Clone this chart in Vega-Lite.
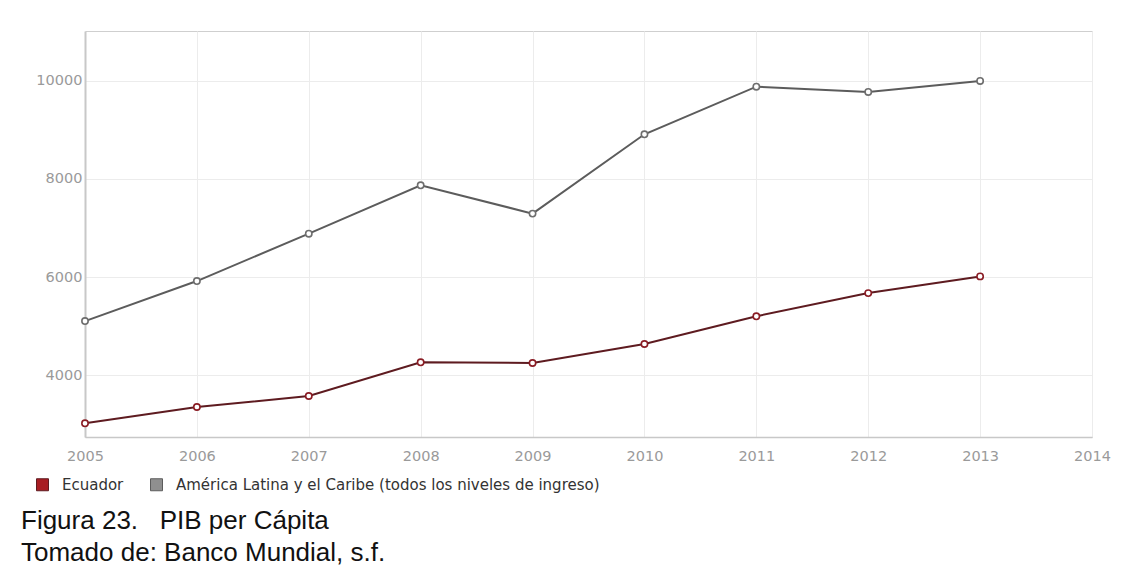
{
  "$schema": "https://vega.github.io/schema/vega-lite/v6.json",
  "width": 1007,
  "height": 406,
  "autosize": {"type": "none"},
  "padding": {"left": 85, "top": 31, "right": 38, "bottom": 137},
  "background": "white",
  "config": {
    "view": {"stroke": "#cfcfcf", "strokeWidth": 1},
    "font": "DejaVu Sans"
  },
  "title": {
    "text": "Figura 23.\u00a0\u00a0\u00a0PIB per Cápita",
    "subtitle": "Tomado de: Banco Mundial, s.f.",
    "orient": "bottom",
    "anchor": "start",
    "frame": "bounds",
    "font": "Liberation Sans",
    "fontSize": 26,
    "fontWeight": "normal",
    "color": "#111111",
    "subtitleFont": "Liberation Sans",
    "subtitleFontSize": 26,
    "subtitleColor": "#111111",
    "subtitlePadding": 6,
    "offset": 15,
    "dx": -14
  },
  "data": {
    "values": [
      {"anio": 2005, "serie": "Ecuador", "pib": 3022},
      {"anio": 2006, "serie": "Ecuador", "pib": 3354},
      {"anio": 2007, "serie": "Ecuador", "pib": 3578},
      {"anio": 2008, "serie": "Ecuador", "pib": 4265},
      {"anio": 2009, "serie": "Ecuador", "pib": 4250},
      {"anio": 2010, "serie": "Ecuador", "pib": 4637},
      {"anio": 2011, "serie": "Ecuador", "pib": 5202},
      {"anio": 2012, "serie": "Ecuador", "pib": 5674},
      {"anio": 2013, "serie": "Ecuador", "pib": 6014},
      {"anio": 2005, "serie": "América Latina y el Caribe (todos los niveles de ingreso)", "pib": 5104},
      {"anio": 2006, "serie": "América Latina y el Caribe (todos los niveles de ingreso)", "pib": 5919},
      {"anio": 2007, "serie": "América Latina y el Caribe (todos los niveles de ingreso)", "pib": 6884},
      {"anio": 2008, "serie": "América Latina y el Caribe (todos los niveles de ingreso)", "pib": 7870},
      {"anio": 2009, "serie": "América Latina y el Caribe (todos los niveles de ingreso)", "pib": 7293},
      {"anio": 2010, "serie": "América Latina y el Caribe (todos los niveles de ingreso)", "pib": 8908},
      {"anio": 2011, "serie": "América Latina y el Caribe (todos los niveles de ingreso)", "pib": 9878},
      {"anio": 2012, "serie": "América Latina y el Caribe (todos los niveles de ingreso)", "pib": 9770},
      {"anio": 2013, "serie": "América Latina y el Caribe (todos los niveles de ingreso)", "pib": 9994}
    ]
  },
  "encoding": {
    "x": {
      "field": "anio",
      "type": "quantitative",
      "scale": {"domain": [2005, 2014], "nice": false, "zero": false},
      "axis": {
        "values": [2005, 2006, 2007, 2008, 2009, 2010, 2011, 2012, 2013, 2014],
        "format": "d",
        "title": null,
        "grid": true,
        "gridColor": "#ececec",
        "gridWidth": 1,
        "ticks": false,
        "domain": true,
        "domainColor": "#c8c8c8",
        "domainWidth": 1.5,
        "labelColor": "#9a9a9a",
        "labelFont": "DejaVu Sans",
        "labelFontSize": 14.5,
        "labelPadding": 12,
        "labelFlush": false,
        "labelOverlap": false
      }
    },
    "y": {
      "field": "pib",
      "type": "quantitative",
      "scale": {"domain": [2743, 11012], "nice": false, "zero": false},
      "axis": {
        "values": [4000, 6000, 8000, 10000],
        "format": "d",
        "title": null,
        "grid": true,
        "gridColor": "#ececec",
        "gridWidth": 1,
        "ticks": false,
        "domain": true,
        "domainColor": "#c8c8c8",
        "domainWidth": 2,
        "labelColor": "#9a9a9a",
        "labelFont": "DejaVu Sans",
        "labelFontSize": 14.5,
        "labelPadding": 3
      }
    },
    "color": {
      "field": "serie",
      "type": "nominal",
      "scale": {
        "domain": ["Ecuador", "América Latina y el Caribe (todos los niveles de ingreso)"],
        "range": ["#5e1b20", "#5c5c5c"]
      },
      "legend": {
        "orient": "none",
        "legendX": -50,
        "legendY": 446,
        "direction": "horizontal",
        "title": null,
        "symbolType": "square",
        "symbolSize": 144,
        "symbolStrokeWidth": 1,
        "labelFont": "DejaVu Sans",
        "labelFontSize": 15,
        "labelColor": "#333333",
        "labelOffset": 12,
        "columnPadding": 24,
        "labelLimit": 0,
        "encode": {
          "symbols": {
            "update": {
              "fill": {"signal": "datum.value === 'Ecuador' ? '#a81d22' : '#8f8f8f'"},
              "stroke": {"signal": "datum.value === 'Ecuador' ? '#7d1418' : '#7b7b7b'"},
              "opacity": {"value": 1},
              "fillOpacity": {"value": 1}
            }
          }
        }
      }
    }
  },
  "layer": [
    {"mark": {"type": "line", "strokeWidth": 2}},
    {
      "mark": {"type": "point", "filled": false, "fill": "white", "fillOpacity": 1, "opacity": 1, "size": 40, "strokeWidth": 1.6},
      "encoding": {
        "stroke": {
          "field": "serie",
          "type": "nominal",
          "scale": {
            "domain": ["Ecuador", "América Latina y el Caribe (todos los niveles de ingreso)"],
            "range": ["#8a1c24", "#6e6e6e"]
          },
          "legend": null
        }
      }
    }
  ]
}
